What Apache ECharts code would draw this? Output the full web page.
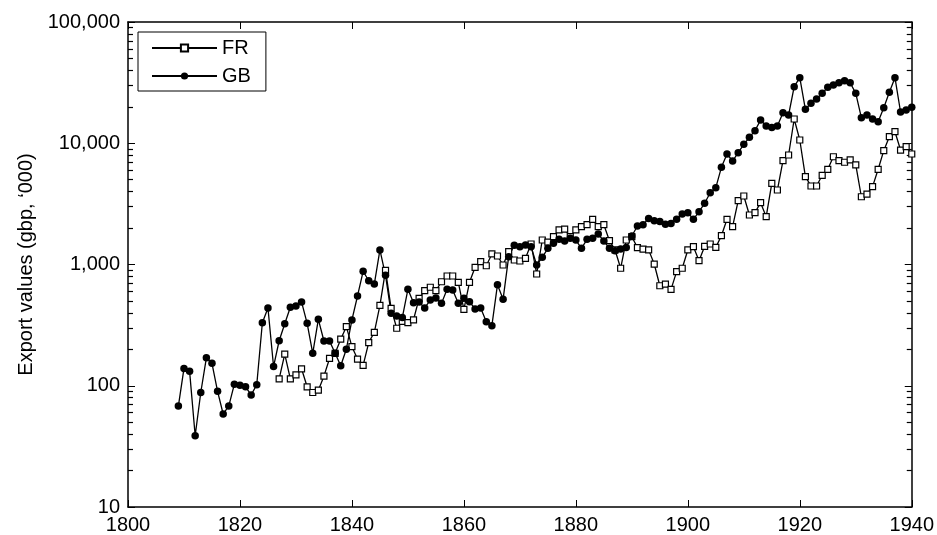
<!DOCTYPE html>
<html>
<head>
<meta charset="utf-8">
<script src="https://cdn.jsdelivr.net/npm/echarts@6/dist/echarts.min.js"></script>
<style>
html,body{margin:0;padding:0;background:#fff;}
#chart{width:937px;height:535px;}
</style>
</head>
<body>
<div id="chart"></div>
<script>
// ---- Data ----
const frStartYear = 1827;
const frValues = [
  114, 182, 114, 123, 138, 98, 88, 92, 120, 168,          // 1827-1836
  185, 242, 307, 210, 166, 147, 227, 276, 460, 896,       // 1837-1846
  435, 298, 340, 331, 350, 526, 608, 649, 608, 721,       // 1847-1856
  804, 804, 713, 427, 713, 948, 1055, 977, 1222, 1175,    // 1857-1866
  991, 1276, 1089, 1069, 1125, 1476, 835, 1592, 1530, 1695, // 1867-1876
  1927, 1960, 1700, 1927, 2050, 2130, 2360, 2050, 2130, 1572, // 1877-1886
  1318, 931, 1592, 1695, 1377, 1340, 1320, 1009, 668, 690,  // 1887-1896
  624, 873, 931, 1318, 1402, 1075, 1410, 1476, 1385, 1728,  // 1897-1906
  2360, 2050, 3360, 3672, 2560, 2680, 3236, 2480, 4673, 4115, // 1907-1916
  7180, 8000, 15850, 10640, 5300, 4440, 4440, 5440, 6100, 7740, // 1917-1926
  7180, 6970, 7280, 6620, 3620, 3810, 4385, 6100, 8690, 11330, // 1927-1936
  12450, 8790, 9370, 8150                                   // 1937-1940
];
const gbStartYear = 1809;
const gbValues = [
  68, 139, 132, 38.7, 88, 170, 153, 90, 58.5, 68,          // 1809-1818
  103, 101, 98, 84, 102, 331, 438, 144, 235, 325,          // 1819-1828
  444, 455, 491, 327, 185, 353, 234, 234, 185, 146,        // 1829-1838
  200, 349, 550, 879, 735, 690, 1318, 815, 396, 376,       // 1839-1848
  365, 624, 484, 490, 438, 509, 530, 478, 624, 616,        // 1849-1858
  478, 526, 493, 430, 438, 337, 313, 682, 516, 1160,       // 1859-1868
  1440, 1402, 1450, 1402, 991, 1146, 1359, 1496, 1614, 1560, // 1869-1878
  1645, 1590, 1359, 1614, 1645, 1785, 1560, 1359, 1300, 1340, // 1879-1888
  1380, 1718, 2078, 2130, 2400, 2300, 2260, 2145, 2180, 2360, // 1889-1898
  2610, 2675, 2360, 2725, 3198, 3910, 4300, 6325, 8150, 7140, // 1899-1908
  8360, 9800, 11190, 12700, 15550, 13870, 13500, 13870, 17860, 17100, // 1909-1918
  29300, 34740, 19050, 21350, 23170, 25800, 28900, 30200, 31570, 32800, // 1919-1928
  31570, 25800, 16250, 17100, 15850, 15070, 19640, 26300, 34740, 18100, // 1929-1938
  18800, 19780                                              // 1939-1940
];
const xTickLabels = ['1800', '1820', '1840', '1860', '1880', '1900', '1920', '1940'];
const yTickLabels = ['10', '100', '1,000', '10,000', '100,000'];
const seriesNames = ['FR', 'GB'];
const yAxisTitle = 'Export values (gbp, \u2018000)';

// ---- Build ----
const frData = frValues.map((v, i) => [frStartYear + i, v]);
const gbData = gbValues.map((v, i) => [gbStartYear + i, v]);

// minor tick positions in log10 space (2..9 within each decade from 10 to 100,000)
const minorTicks = [];
for (let d = 1; d < 5; d++) {
  for (let k = 2; k <= 9; k++) minorTicks.push(d + Math.log10(k));
}

const FONT = '"Liberation Sans", Arial, Helvetica, sans-serif';
const axisLineStyle = { color: '#000', width: 1.5 };

const chart = echarts.init(document.getElementById('chart'), null, { renderer: 'canvas' });
const option = {
  animation: false,
  backgroundColor: '#fff',
  textStyle: { fontFamily: FONT },
  grid: { left: 128, right: 25, top: 22, bottom: 28, containLabel: false },
  legend: {
    data: seriesNames,
    orient: 'vertical',
    left: 138,
    top: 32,
    padding: [6, 15, 5, 13],
    itemGap: 8,
    itemWidth: 65,
    itemHeight: 9,
    backgroundColor: '#fff',
    borderColor: '#000',
    borderWidth: 1,
    borderRadius: 0,
    textStyle: { fontSize: 20, color: '#000', fontFamily: FONT }
  },
  xAxis: [
    {
      type: 'value', min: 1800, max: 1940, interval: 20, position: 'bottom',
      axisLine: { show: true, onZero: false, lineStyle: axisLineStyle },
      axisTick: { show: true, inside: true, length: 7, lineStyle: { color: '#000', width: 1 } },
      axisLabel: {
        show: true, fontSize: 20, color: '#000', fontFamily: FONT, margin: 8,
        formatter: (v) => xTickLabels[Math.round((v - 1800) / 20)]
      },
      splitLine: { show: false }
    },
    {
      type: 'value', min: 1800, max: 1940, interval: 20, position: 'top',
      axisLine: { show: true, onZero: false, lineStyle: axisLineStyle },
      axisTick: { show: true, inside: true, length: 7, lineStyle: { color: '#000', width: 1 } },
      axisLabel: { show: false },
      splitLine: { show: false }
    }
  ],
  yAxis: [
    {
      type: 'log', logBase: 10, min: 10, max: 100000, position: 'left',
      name: yAxisTitle, nameLocation: 'middle', nameGap: 91,
      nameTextStyle: { fontSize: 20, color: '#000', fontFamily: FONT },
      axisLine: { show: true, onZero: false, lineStyle: axisLineStyle },
      axisTick: { show: true, inside: true, length: 7, lineStyle: { color: '#000', width: 1 } },
      axisLabel: {
        show: true, fontSize: 20, color: '#000', fontFamily: FONT, margin: 8,
        formatter: (v) => yTickLabels[Math.round(Math.log10(v)) - 1]
      },
      minorTick: { show: false },
      splitLine: { show: false }
    },
    {
      type: 'log', logBase: 10, min: 10, max: 100000, position: 'right',
      axisLine: { show: true, onZero: false, lineStyle: axisLineStyle },
      axisTick: { show: true, inside: true, length: 7, lineStyle: { color: '#000', width: 1 } },
      axisLabel: { show: false },
      minorTick: { show: false },
      splitLine: { show: false }
    },
    {
      type: 'value', min: 1, max: 5, position: 'left',
      axisLine: { show: false },
      axisTick: { show: true, inside: true, length: 5, customValues: minorTicks, lineStyle: { color: '#000', width: 1.2 } },
      axisLabel: { show: false },
      splitLine: { show: false }
    },
    {
      type: 'value', min: 1, max: 5, position: 'right',
      axisLine: { show: false },
      axisTick: { show: true, inside: true, length: 5, customValues: minorTicks, lineStyle: { color: '#000', width: 1.2 } },
      axisLabel: { show: false },
      splitLine: { show: false }
    }
  ],
  series: [
    {
      name: seriesNames[0], type: 'line', data: frData,
      xAxisIndex: 0, yAxisIndex: 0,
      symbol: 'rect', symbolSize: 6, showAllSymbol: true,
      lineStyle: { color: '#000', width: 1.3 },
      itemStyle: { color: '#fff', borderColor: '#000', borderWidth: 1.2 },
      emphasis: { disabled: true }
    },
    {
      name: seriesNames[1], type: 'line', data: gbData,
      xAxisIndex: 0, yAxisIndex: 0,
      symbol: 'circle', symbolSize: 7.5, showAllSymbol: true,
      lineStyle: { color: '#000', width: 1.3 },
      itemStyle: { color: '#000', borderColor: '#000', borderWidth: 0 },
      emphasis: { disabled: true }
    }
  ]
};
chart.setOption(option);
</script>
</body>
</html>
